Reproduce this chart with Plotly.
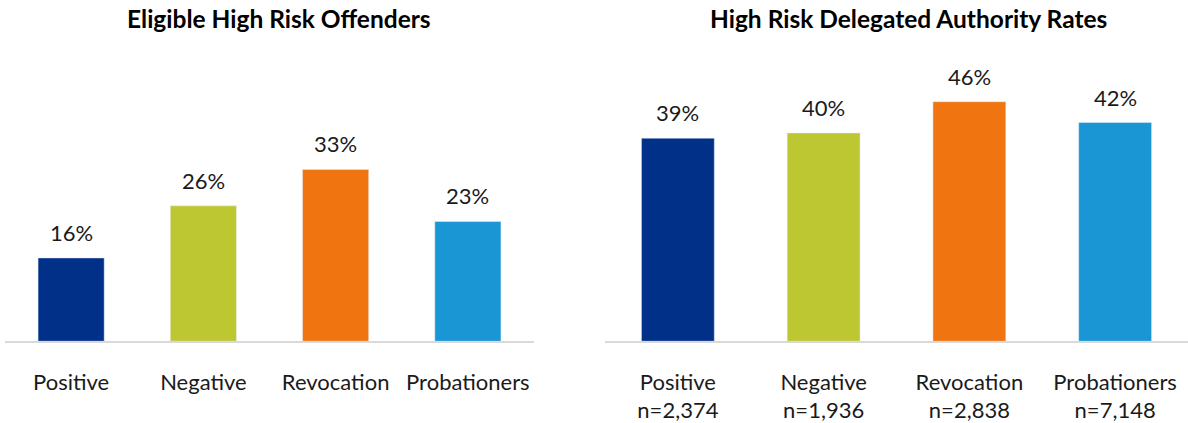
import plotly.graph_objects as go

categories = ["Positive", "Negative", "Revocation", "Probationers"]
eligible_rates = [0.16, 0.26, 0.33, 0.23]
delegated_rates = [0.39, 0.40, 0.46, 0.42]
sample_sizes = ["2,374", "1,936", "2,838", "7,148"]

bar_colors = ["#003087", "#BDC731", "#F07410", "#1A96D4"]
font_family = "Lato, Carlito, Calibri, sans-serif"
W, H = 1188, 423

fig = go.Figure()

fig.add_trace(go.Bar(
    x=categories, y=eligible_rates, marker_color=bar_colors,
    width=0.5, xaxis="x", yaxis="y", showlegend=False,
))
fig.add_trace(go.Bar(
    x=categories, y=delegated_rates, marker_color=bar_colors,
    width=0.5, xaxis="x2", yaxis="y2", showlegend=False,
))

# value labels above the bars
annotations = []
for ax, vals in (("", eligible_rates), ("2", delegated_rates)):
    for cat, val in zip(categories, vals):
        annotations.append(dict(
            x=cat, y=val, xref="x" + ax, yref="y" + ax, text=f"{val:.0%}",
            showarrow=False, yanchor="bottom", yshift=10,
            font=dict(size=22, color="#1a1a1a", family=font_family),
        ))

# chart titles (pixel positions converted to paper fractions)
for px_x, label in ((279, "Eligible High Risk Offenders"),
                    (908, "High Risk Delegated Authority Rates")):
    annotations.append(dict(
        x=px_x / W, y=1 - 19 / H, xref="paper", yref="paper",
        xanchor="center", yanchor="middle", text=f"<b>{label}</b>",
        showarrow=False, font=dict(size=24.5, color="black", family=font_family),
    ))

right_ticks = [f"{c}<br>n={n}" for c, n in zip(categories, sample_sizes)]

fig.update_layout(
    width=W, height=H,
    margin=dict(l=0, r=0, t=0, b=0),
    paper_bgcolor="white", plot_bgcolor="white",
    font=dict(family=font_family, size=22, color="#1a1a1a"),
    annotations=annotations,
    xaxis=dict(
        domain=[5 / W, 534 / W], showline=True, linecolor="#D9D9D9", linewidth=2,
        ticks="", ticklabelstandoff=20, showgrid=False, fixedrange=True, anchor="y",
    ),
    yaxis=dict(
        domain=[(H - 347) / H, (H - 60) / H], range=[0, 0.542], visible=False,
        showgrid=False, fixedrange=True,
    ),
    xaxis2=dict(
        domain=[605 / W, 1.0], showline=True, linecolor="#D9D9D9", linewidth=2,
        ticks="", ticklabelstandoff=20, showgrid=False, fixedrange=True,
        tickmode="array", tickvals=categories, ticktext=right_ticks, anchor="y2",
    ),
    yaxis2=dict(
        domain=[(H - 347) / H, (H - 60) / H], range=[0, 0.542], visible=False,
        showgrid=False, fixedrange=True, anchor="x2",
    ),
)

# drop the default page margin so the figure sits at the window's corner
fig.write_html("out.html", config={"displayModeBar": False},
               post_script="document.body.style.margin='0';")
